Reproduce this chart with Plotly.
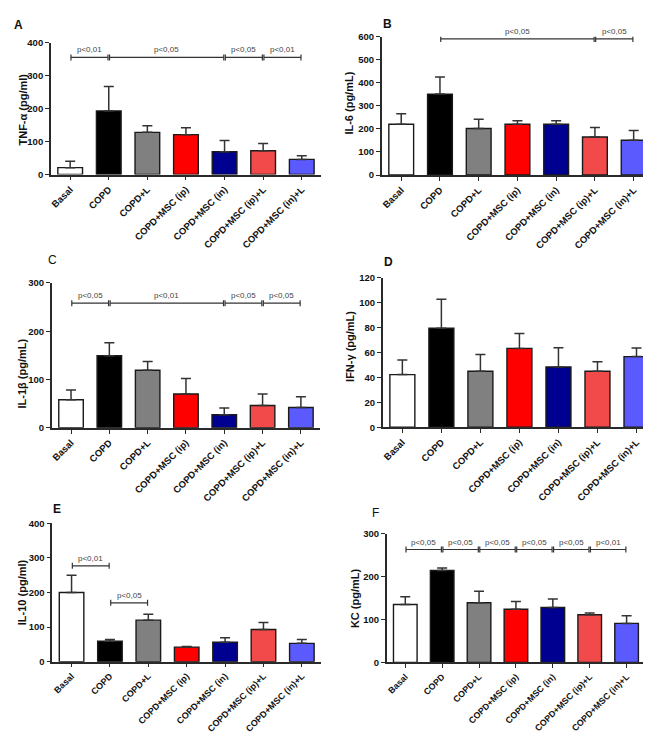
import plotly.graph_objects as go

W, H = 651, 736

categories = ["Basal", "COPD", "COPD+L", "COPD+MSC (ip)", "COPD+MSC (in)",
              "COPD+MSC (ip)+L", "COPD+MSC (in)+L"]
bar_colors = ["#ffffff", "#000000", "#808080", "#ff0000", "#000090", "#f24a4a", "#5a5aff"]

# Panel A: TNF-alpha
tnf_mean = [21, 193, 128, 121, 69, 72, 46]
tnf_err = [19, 74, 20, 21, 34, 22, 11]
# Panel B: IL-6
il6_mean = [220, 351, 202, 220, 220, 165, 151]
il6_err = [46, 74, 40, 15, 15, 41, 42]
# Panel C: IL-1beta
il1b_mean = [58, 149, 119, 70, 27, 46, 42]
il1b_err = [20, 27, 18, 32, 14, 24, 22]
# Panel D: IFN-gamma
ifn_mean = [42.3, 79.6, 45, 63.4, 48.4, 45, 56.8]
ifn_err = [11.7, 23.4, 13.4, 11.9, 15.6, 7.6, 6.9]
# Panel E: IL-10
il10_mean = [200, 59, 120, 42, 56, 93, 53]
il10_err = [50, 5, 17, 2, 13, 20, 11]
# Panel F: KC
kc_mean = [135, 214, 139, 124, 128, 111, 91]
kc_err = [18, 6, 27, 18, 20, 4, 18]

# significance brackets: (from index, to index, level, label)
tnf_sig = [(0, 1, 355, "p<0,01"), (1, 4, 355, "p<0,05"), (4, 5, 355, "p<0,05"), (5, 6, 355, "p<0,01")]
il6_sig = [(1, 5, 590, "p<0,05"), (5, 6, 590, "p<0,05")]
il1b_sig = [(0, 1, 258, "p<0,05"), (1, 4, 258, "p<0,01"), (4, 5, 258, "p<0,05"), (5, 6, 258, "p<0,05")]
ifn_sig = []
il10_sig = [(0, 1, 277, "p<0,01"), (1, 2, 170, "p<0,05")]
kc_sig = [(0, 1, 263, "p<0,05"), (1, 2, 263, "p<0,05"), (2, 3, 263, "p<0,05"),
          (3, 4, 263, "p<0,05"), (4, 5, 263, "p<0,05"), (5, 6, 263, "p<0,01")]

y_titles = ["TNF-α (pg/ml)", "IL-6 (pg/mL)", "IL-1β (pg/mL)", "IFN-γ (pg/mL)", "IL-10 (pg/ml)", "KC (pg/mL)"]
y_max = [400, 600, 300, 120, 400, 300]
y_dtick = [100, 100, 100, 20, 100, 100]
letters = ["A", "B", "C", "D", "E", "F"]

panels = [
    (tnf_mean, tnf_err, tnf_sig),
    (il6_mean, il6_err, il6_sig),
    (il1b_mean, il1b_err, il1b_sig),
    (ifn_mean, ifn_err, ifn_sig),
    (il10_mean, il10_err, il10_sig),
    (kc_mean, kc_err, kc_sig),
]

# layout geometry in pixels: (x0, x1, ytop, ybottom)
boxes = [
    (41, 312, 29, 163),
    (373, 645, 23, 163.5),
    (42, 311, 273, 420),
    (374, 648, 268, 419.5),
    (42.5, 312, 517, 657.5),
    (378, 637, 527.5, 658.3),
]
xlabel_size = [9.5, 9.5, 9.5, 9.5, 9, 8.8]
title_pos = [(13, 97), (340, 90), (12, 365), (341, 337), (12, 587), (346, 593)]
letter_pos = [(9, 11, True), (379, 10, True), (43, 250, False), (380, 252, True), (47, 503, True), (367, 507, False)]

FONT = "Arial, Liberation Sans, sans-serif"
AX = "#2a2a2a"

fig = go.Figure()
layout = dict(
    width=W, height=H, paper_bgcolor="white", plot_bgcolor="white",
    margin=dict(l=0, r=0, t=0, b=0), showlegend=False,
    font=dict(family=FONT, color="#111"),
)
shapes = []
annotations = []

for k, (means, errs, sigs) in enumerate(panels):
    n = k + 1
    xa = "x" if n == 1 else f"x{n}"
    ya = "y" if n == 1 else f"y{n}"
    fig.add_trace(go.Bar(
        x=categories, y=means, xaxis=xa, yaxis=ya,
        marker=dict(color=bar_colors, line=dict(color="#1a1a1a", width=1.4)),
        error_y=dict(type="data", array=errs, arrayminus=[0] * len(errs), symmetric=False,
                     color="#333333", thickness=1.5, width=5),
        width=0.64,
    ))
    x0, x1, yt, yb = boxes[k]
    xkey = "xaxis" if n == 1 else f"xaxis{n}"
    ykey = "yaxis" if n == 1 else f"yaxis{n}"
    layout[xkey] = dict(
        domain=[x0 / W, x1 / W], anchor=ya, type="category",
        range=[-0.5, 6.5], showline=True, linecolor=AX, linewidth=1.6,
        ticks="outside", ticklen=4, tickwidth=1.3, tickcolor=AX,
        tickangle=-45, tickfont=dict(family=FONT, size=xlabel_size[k], color="#111", weight="bold"),
        showgrid=False, zeroline=False, fixedrange=True,
    )
    layout[ykey] = dict(
        domain=[1 - yb / H, 1 - yt / H], anchor=xa,
        range=[0, y_max[k]], dtick=y_dtick[k], tick0=0,
        showline=True, linecolor=AX, linewidth=1.6,
        ticks="outside", ticklen=4, tickwidth=1.3, tickcolor=AX,
        tickfont=dict(family=FONT, size=9.5, color="#111", weight="bold"),
        showgrid=False, zeroline=False, fixedrange=True,
    )
    # y title
    tx, ty = title_pos[k]
    annotations.append(dict(
        text=f"<b>{y_titles[k]}</b>", x=tx / W, y=1 - ty / H, xref="paper", yref="paper",
        textangle=-90, showarrow=False, xanchor="center", yanchor="middle",
        font=dict(family=FONT, size=11, color="#111"),
    ))
    # panel letter
    lx, ly, bold = letter_pos[k]
    annotations.append(dict(
        text=(f"<b>{letters[k]}</b>" if bold else letters[k]), x=lx / W, y=1 - ly / H,
        xref="paper", yref="paper", showarrow=False, xanchor="center", yanchor="middle",
        font=dict(family=FONT, size=12, color="#111"),
    ))
    # significance brackets
    for (i, j, lev, lab) in sigs:
        a, b = i + 0.02, j - 0.02
        shapes.append(dict(type="line", xref=xa, yref=ya, x0=a, x1=b, y0=lev, y1=lev,
                           line=dict(color="#333", width=1.2)))
        for xx in (a, b):
            shapes.append(dict(type="line", xref=xa, yref=ya, x0=xx, x1=xx,
                               ysizemode="pixel", yanchor=lev, y0=-3, y1=3,
                               line=dict(color="#333", width=1.2)))
        annotations.append(dict(
            text=lab, x=(i + j) / 2, y=lev, xref=xa, yref=ya, showarrow=False,
            yanchor="bottom", yshift=1, font=dict(family=FONT, size=8, color="#444"),
        ))

layout["shapes"] = shapes
layout["annotations"] = annotations
fig.update_layout(**layout)
fig.write_html("out.html")
